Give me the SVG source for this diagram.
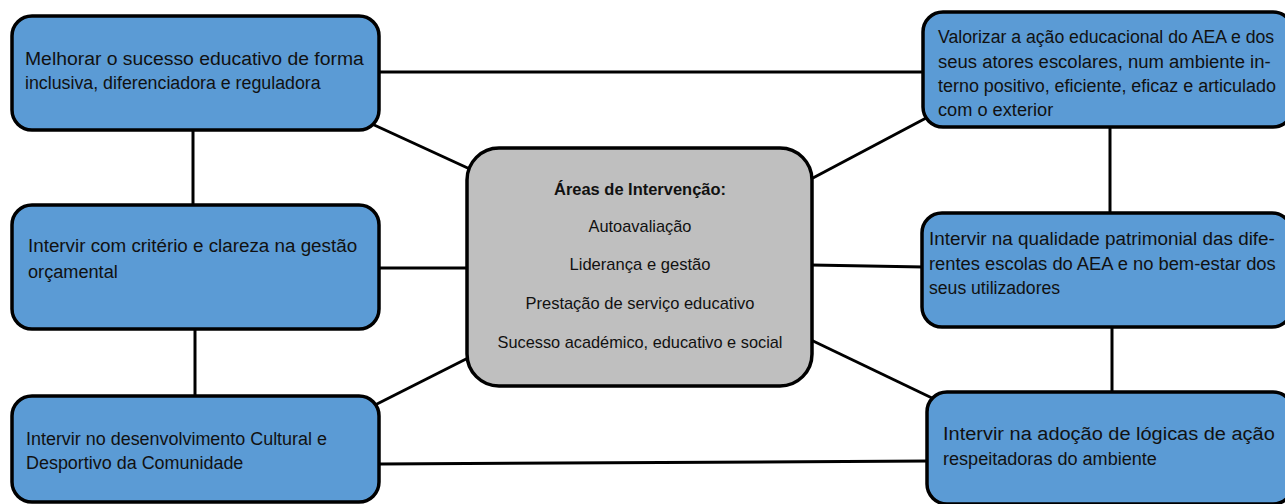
<svg xmlns="http://www.w3.org/2000/svg" width="1285" height="504" viewBox="0 0 1285 504">
<style>
.node{fill:#5B9BD5;stroke:#000;stroke-width:3.5}
.center{fill:#BFBFBF;stroke:#000;stroke-width:3.5}
.conn line{stroke:#000;stroke-width:3}
text{font-family:"Liberation Sans",Arial,sans-serif;font-size:19px;fill:#111}
.c{font-size:17px;text-anchor:middle}
.b{font-weight:bold}
</style>
<rect width="1285" height="504" fill="#fff"/>
<g id="connectors" class="conn">
<line x1="378" y1="72" x2="925" y2="72"/>
<line x1="372" y1="124" x2="472" y2="170"/>
<line x1="193" y1="130" x2="193" y2="206"/>
<line x1="380" y1="268" x2="468" y2="268"/>
<line x1="195" y1="329" x2="195" y2="397"/>
<line x1="375" y1="405" x2="470" y2="357"/>
<line x1="380" y1="464" x2="929" y2="461"/>
<line x1="928" y1="117" x2="811" y2="179"/>
<line x1="1110" y1="127" x2="1110" y2="213"/>
<line x1="811" y1="265" x2="924" y2="267"/>
<line x1="1112" y1="327" x2="1112" y2="392"/>
<line x1="811" y1="340" x2="932" y2="398"/>
</g>
<g id="n1">
<rect class="node" x="12" y="16" width="367" height="114" rx="20"/>
<g transform="matrix(0.88,0,0,1,25,0)">
<text x="0" y="65" textLength="385" lengthAdjust="spacingAndGlyphs">Melhorar o sucesso educativo de forma</text>
<text x="0" y="89" textLength="336" lengthAdjust="spacingAndGlyphs">inclusiva, diferenciadora e reguladora</text>
</g>
</g>
<g id="n2">
<rect class="node" x="12" y="205" width="367" height="124" rx="20"/>
<g transform="matrix(0.88,0,0,1,28,0)">
<text x="0" y="252" textLength="374" lengthAdjust="spacingAndGlyphs">Intervir com critério e clareza na gestão</text>
<text x="0" y="278" textLength="102" lengthAdjust="spacingAndGlyphs">orçamental</text>
</g>
</g>
<g id="n3">
<rect class="node" x="12" y="396" width="367" height="106" rx="20"/>
<g transform="matrix(0.88,0,0,1,26,0)">
<text x="0" y="445" textLength="342" lengthAdjust="spacingAndGlyphs">Intervir no desenvolvimento Cultural e</text>
<text x="0" y="469" textLength="247" lengthAdjust="spacingAndGlyphs">Desportivo da Comunidade</text>
</g>
</g>
<g id="center">
<rect class="center" x="467" y="148" width="345" height="238" rx="32"/>
<text class="c b" x="640" y="195" textLength="172" lengthAdjust="spacingAndGlyphs">Áreas de Intervenção:</text>
<text class="c" x="640" y="232" textLength="103" lengthAdjust="spacingAndGlyphs">Autoavaliação</text>
<text class="c" x="640" y="270" textLength="141" lengthAdjust="spacingAndGlyphs">Liderança e gestão</text>
<text class="c" x="640" y="309" textLength="229" lengthAdjust="spacingAndGlyphs">Prestação de serviço educativo</text>
<text class="c" x="640" y="348" textLength="285" lengthAdjust="spacingAndGlyphs">Sucesso académico, educativo e social</text>
</g>
<g id="r1">
<rect class="node" x="923" y="12" width="370" height="115" rx="20"/>
<g transform="matrix(0.88,0,0,1,938,0)">
<text x="0" y="43" textLength="382" lengthAdjust="spacingAndGlyphs">Valorizar a ação educacional do AEA e dos</text>
<text x="0" y="68" textLength="378" lengthAdjust="spacingAndGlyphs">seus atores escolares, num ambiente in-</text>
<text x="0" y="92" textLength="384" lengthAdjust="spacingAndGlyphs">terno positivo, eficiente, eficaz e articulado</text>
<text x="0" y="116" textLength="131" lengthAdjust="spacingAndGlyphs">com o exterior</text>
</g>
</g>
<g id="r2">
<rect class="node" x="922" y="213" width="370" height="114" rx="20"/>
<g transform="matrix(0.88,0,0,1,929,0)">
<text x="0" y="245" textLength="393" lengthAdjust="spacingAndGlyphs">Intervir na qualidade patrimonial das dife-</text>
<text x="0" y="270" textLength="394" lengthAdjust="spacingAndGlyphs">rentes escolas do AEA e no bem-estar dos</text>
<text x="0" y="294" textLength="149" lengthAdjust="spacingAndGlyphs">seus utilizadores</text>
</g>
</g>
<g id="r3">
<rect class="node" x="927" y="392" width="366" height="112" rx="20"/>
<g transform="matrix(0.88,0,0,1,943,0)">
<text x="0" y="440" textLength="377" lengthAdjust="spacingAndGlyphs">Intervir na adoção de lógicas de ação</text>
<text x="0" y="465" textLength="243" lengthAdjust="spacingAndGlyphs">respeitadoras do ambiente</text>
</g>
</g>
</svg>
